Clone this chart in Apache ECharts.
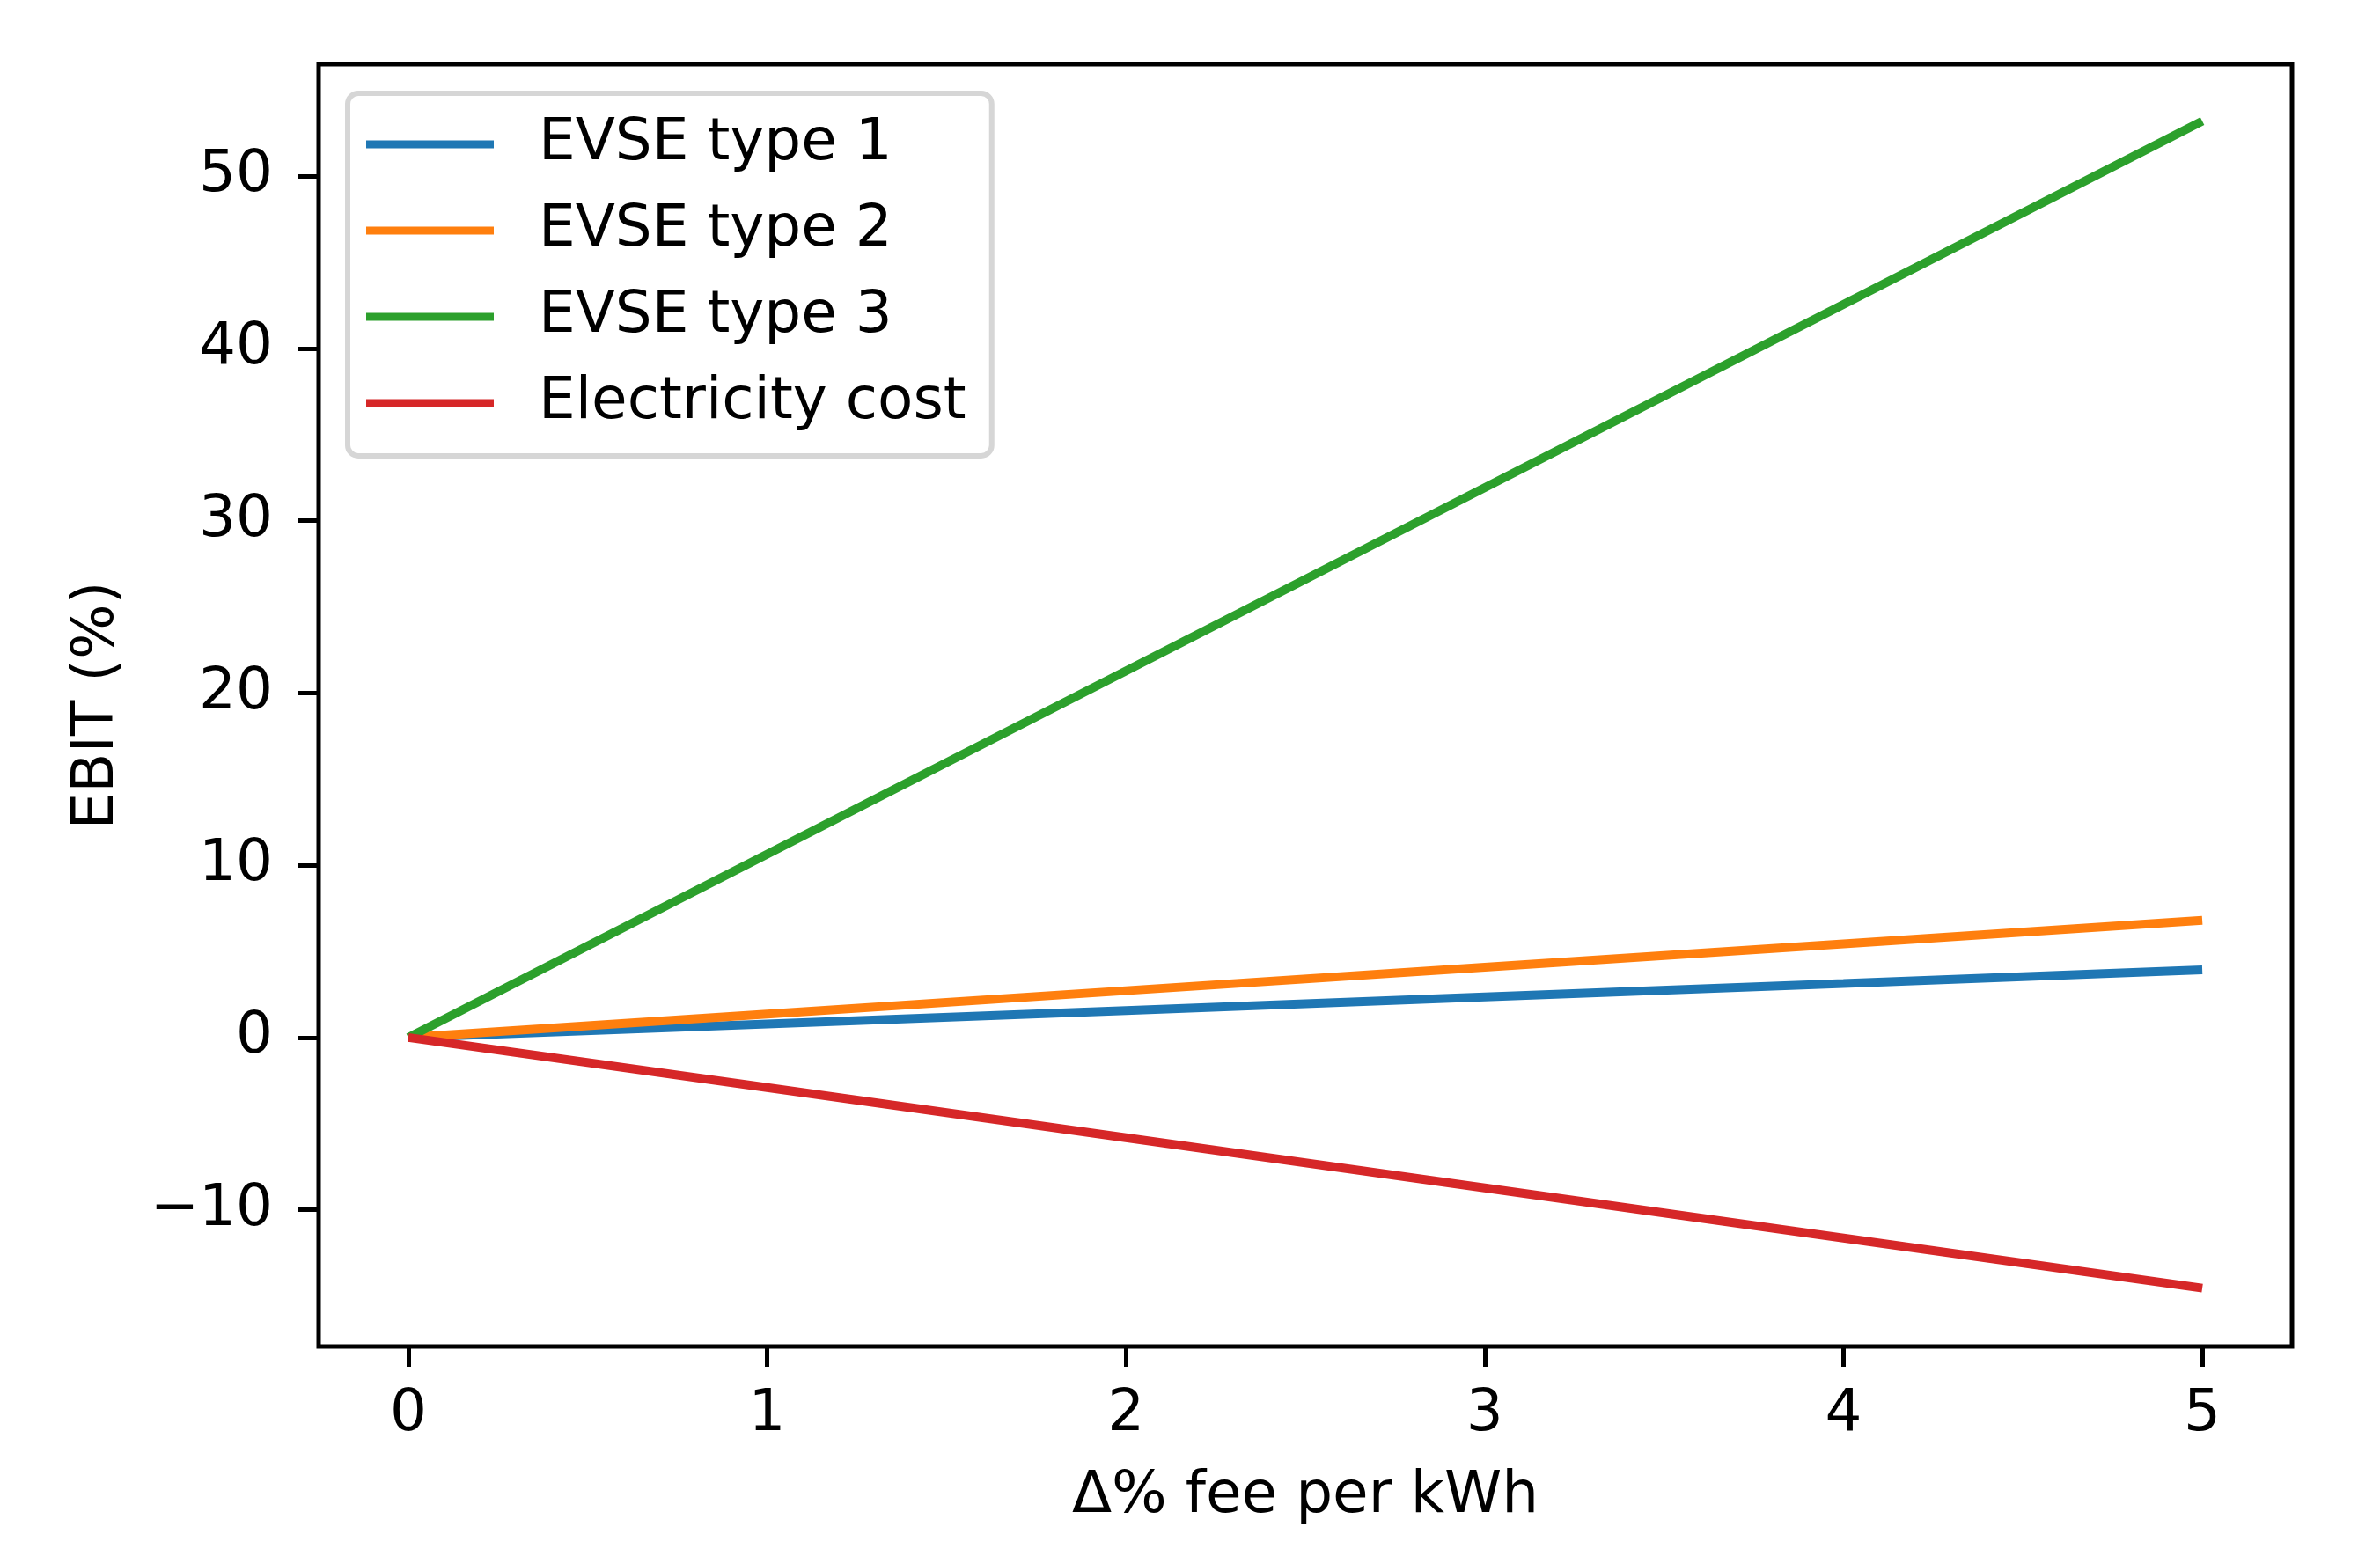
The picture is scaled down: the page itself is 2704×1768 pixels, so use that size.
<!DOCTYPE html>
<html>
<head>
<meta charset="utf-8">
<script src="https://cdn.jsdelivr.net/npm/echarts@6/dist/echarts.min.js"></script>
<style>
html,body{margin:0;padding:0;background:#fff;}
#chart{width:2704px;height:1768px;}
</style>
</head>
<body>
<div id="chart"></div>
<script>
// Data
const xValues = [0, 1, 2, 3, 4, 5];
const evseType1 = [0, 0.79, 1.57, 2.36, 3.14, 3.93];
const evseType2 = [0, 1.36, 2.72, 4.08, 5.44, 6.8];
const evseType3 = [0, 10.64, 21.28, 31.92, 42.56, 53.2];
const electricityCost = [0, -2.91, -5.82, -8.73, -11.64, -14.55];
const seriesNames = ['EVSE type 1', 'EVSE type 2', 'EVSE type 3', 'Electricity cost'];
const seriesColors = ['#1f77b4', '#ff7f0e', '#2ca02c', '#d62728'];
const xTicks = [0, 1, 2, 3, 4, 5];
const yTicks = [-10, 0, 10, 20, 30, 40, 50];
const xTitle = 'Δ% fee per kWh';
const yTitle = 'EBIT (%)';

const FONT = 'DejaVu Sans';
const FS = 66;

function pairs(ys) { return xValues.map((x, i) => [x, ys[i]]); }
const allSeries = [evseType1, evseType2, evseType3, electricityCost];

const chart = echarts.init(document.getElementById('chart'), null, {renderer: 'canvas'});
chart.setOption({
  animation: false,
  backgroundColor: '#ffffff',
  grid: {
    left: 362, right: 100, top: 73, bottom: 238,
    show: true, borderColor: '#000000', borderWidth: 5, backgroundColor: 'transparent'
  },
  legend: {
    left: 395, top: 106,
    orient: 'vertical',
    icon: 'rect',
    itemWidth: 145, itemHeight: 9, itemGap: 26,
    padding: [22, 29, 24, 21],
    backgroundColor: '#ffffff',
    borderColor: '#d6d6d6', borderWidth: 6, borderRadius: 12,
    textStyle: {fontFamily: FONT, fontSize: FS, color: '#000000', lineHeight: 72, padding: [0, 0, 0, 46]},
    data: seriesNames
  },
  xAxis: {
    type: 'value', min: -0.25, max: 5.25,
    name: xTitle, nameLocation: 'middle', nameGap: 138,
    nameTextStyle: {fontFamily: FONT, fontSize: FS, color: '#000000'},
    axisLine: {show: false, onZero: false},
    axisTick: {show: true, inside: false, length: 23, lineStyle: {color: '#000', width: 5}, customValues: xTicks},
    axisLabel: {fontFamily: FONT, fontSize: FS, color: '#000', margin: 45, customValues: xTicks},
    splitLine: {show: false}
  },
  yAxis: {
    type: 'value', min: -17.94, max: 56.5,
    name: yTitle, nameLocation: 'middle', nameGap: 218, nameRotate: 90,
    nameTextStyle: {fontFamily: FONT, fontSize: FS, color: '#000000'},
    axisLine: {show: false, onZero: false},
    axisTick: {show: true, inside: false, length: 23, lineStyle: {color: '#000', width: 5}, customValues: yTicks},
    axisLabel: {fontFamily: FONT, fontSize: FS, color: '#000', margin: 52, customValues: yTicks,
      formatter: v => (v < 0 ? '\u2212' + Math.abs(v) : String(v))},
    splitLine: {show: false}
  },
  series: seriesNames.map((n, i) => ({
    name: n, type: 'line', data: pairs(allSeries[i]),
    symbol: 'none', showSymbol: false,
    color: seriesColors[i],
    lineStyle: {color: seriesColors[i], width: 10, cap: 'butt'},
    itemStyle: {color: seriesColors[i]},
    z: 2 + i
  }))
});
</script>
</body>
</html>
